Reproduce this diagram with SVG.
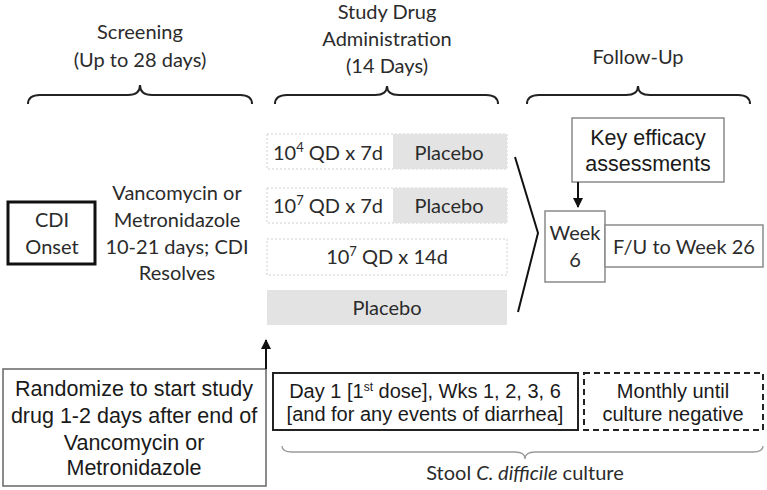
<svg xmlns="http://www.w3.org/2000/svg" width="767" height="490" viewBox="0 0 767 490">
<style>
.c{font-family:Lato,"Open Sans","Liberation Sans",sans-serif;font-size:20px;fill:#2b2b2b;text-anchor:middle}
.a{font-family:"Liberation Sans",Arial,sans-serif;font-size:20px;fill:#1a1a1a;text-anchor:middle}
.a22{font-size:21.5px}
.brace{fill:none;stroke:#222;stroke-width:2}
.row{stroke:#cfcfcf;stroke-width:1;stroke-dasharray:2 2}
.grey{fill:#e3e3e3}
.box{fill:#fff;stroke:#8a8a8a;stroke-width:1.5}
</style>
<defs>
<marker id="ah" viewBox="0 0 10 10" refX="9" refY="5" markerWidth="5" markerHeight="5" orient="auto">
<path d="M0,0 L10,5 L0,10 z" fill="#111"/>
</marker>
</defs>

<g id="headers">
<text class="c" x="140" y="39">Screening</text>
<text class="c" x="140" y="67">(Up to 28 days)</text>
<text class="c" x="387" y="19">Study Drug</text>
<text class="c" x="387" y="46">Administration</text>
<text class="c" x="387" y="73">(14 Days)</text>
<text class="c" x="638" y="64">Follow-Up</text>
</g>

<g id="braces">
<path class="brace" d="M28,104 Q28,95 40,95 L128,95 Q140,95 140,85 Q140,95 152,95 L240,95 Q252,95 252,104"/>
<path class="brace" d="M275,104 Q275,95 287,95 L375,95 Q387,95 387,86 Q387,95 399,95 L486,95 Q498,95 498,104"/>
<path class="brace" d="M527,104 Q527,95 539,95 L626,95 Q638,95 638,86 Q638,95 650,95 L738,95 Q750,95 750,104"/>
<path d="M282,446 Q282,452 292,452 L515,452 Q525,452 525,459 Q525,452 535,452 L753,452 Q763,452 763,446" fill="none" stroke="#9a9a9a" stroke-width="1.3"/>
</g>

<g id="cdi-onset">
<rect x="8" y="202" width="87" height="62" fill="#fff" stroke="#111" stroke-width="3"/>
<text class="c" x="52" y="227">CDI</text>
<text class="c" x="52" y="254">Onset</text>
</g>

<g id="vanco">
<text class="c" x="177" y="200">Vancomycin or</text>
<text class="c" x="177" y="227">Metronidazole</text>
<text class="c" x="177" y="254">10-21 days; CDI</text>
<text class="c" x="177" y="280">Resolves</text>
</g>

<g id="row1">
<rect x="267" y="134" width="240" height="35" fill="#fff" class="row"/>
<rect x="393" y="134" width="114" height="35" class="grey"/>
<text class="c" x="328" y="160">10<tspan font-size="13" dy="-8">4</tspan><tspan dy="8"> QD x 7d</tspan></text>
<text class="c" x="449" y="160">Placebo</text>
</g>
<g id="row2">
<rect x="267" y="188" width="240" height="35" fill="#fff" class="row"/>
<rect x="393" y="188" width="114" height="35" class="grey"/>
<text class="c" x="328" y="213">10<tspan font-size="13" dy="-8">7</tspan><tspan dy="8"> QD x 7d</tspan></text>
<text class="c" x="449" y="213">Placebo</text>
</g>
<g id="row3">
<rect x="267" y="239" width="240" height="36" fill="#fff" class="row"/>
<text class="c" x="387" y="264">10<tspan font-size="13" dy="-8">7</tspan><tspan dy="8"> QD x 14d</tspan></text>
</g>
<g id="row4">
<rect x="267" y="290" width="240" height="35" class="grey"/>
<text class="c" x="387" y="315">Placebo</text>
</g>

<g id="key-efficacy">
<rect x="572" y="118" width="152" height="64" class="box"/>
<text class="a a22" x="648" y="145">Key efficacy</text>
<text class="a a22" x="648" y="171">assessments</text>
</g>

<g id="week6">
<rect x="545" y="211" width="60" height="71" class="box"/>
<text class="c" x="575" y="240">Week</text>
<text class="c" x="575" y="267">6</text>
</g>

<g id="fu">
<rect x="605" y="225" width="158" height="42" class="box"/>
<text class="c" x="684" y="254">F/U to Week 26</text>
</g>

<g id="randomize">
<rect x="3" y="369" width="263" height="117" class="box" style="stroke:#666"/>
<text class="a a22" x="134" y="396">Randomize to start study</text>
<text class="a a22" x="134" y="423">drug 1-2 days after end of</text>
<text class="a a22" x="134" y="450">Vancomycin or</text>
<text class="a a22" x="134" y="475">Metronidazole</text>
</g>

<g id="day1">
<rect x="273" y="373" width="305" height="57" fill="#fff" stroke="#222" stroke-width="2"/>
<text class="a" x="425" y="398">Day 1 [1<tspan font-size="12" dy="-7">st</tspan><tspan dy="7"> dose], Wks 1, 2, 3, 6</tspan></text>
<text class="a" x="425" y="421">[and for any events of diarrhea]</text>
</g>

<g id="monthly">
<rect x="584" y="373" width="179" height="57" fill="#fff" stroke="#222" stroke-width="2" stroke-dasharray="6 4"/>
<text class="a" x="673" y="398">Monthly until</text>
<text class="a" x="673" y="421">culture negative</text>
</g>

<g id="stool">
<text class="c" x="525" y="480">Stool <tspan font-style="italic">C. difficile</tspan> culture</text>
</g>

<g id="connectors">
<path d="M515,157 L538,233 L518,312" fill="none" stroke="#111" stroke-width="2"/>
<line x1="578" y1="182" x2="578" y2="207" stroke="#111" stroke-width="2" marker-end="url(#ah)"/>
<line x1="266" y1="369" x2="266" y2="340" stroke="#111" stroke-width="2" marker-end="url(#ah)"/>
</g>
</svg>
